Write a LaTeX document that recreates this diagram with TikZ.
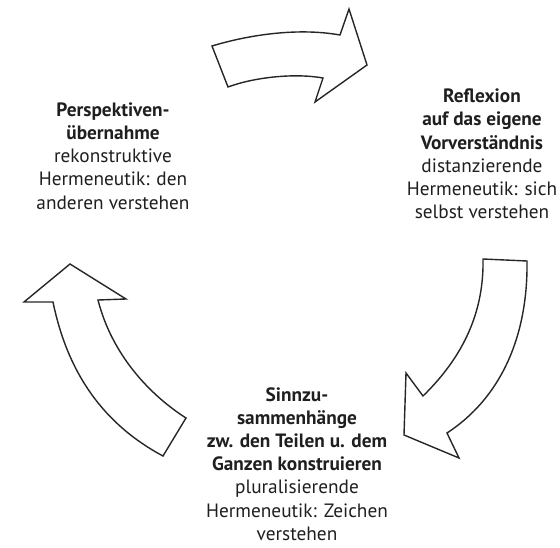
\documentclass[tikz,border=0pt]{standalone}
\usepackage{fontspec}
\setmainfont{PT Sans}
\begin{document}
\begin{tikzpicture}[x=1pt,y=-1pt,
  blockarrow/.style={draw=black!85, line width=1.4pt, line join=miter, fill=white},
  txt/.style={align=center, inner sep=0pt, text=black!88, font=\fontsize{19.3}{23.2}\selectfont}]
\useasboundingbox (0,0) rectangle (560,548);
% top arrow
\draw[blockarrow] (212,46) .. controls (245,36) and (295,27) .. (340,35) -- (349,9) -- (367,65) -- (315,102) -- (323,78)
  .. controls (295,73) and (255,77) .. (228,87) -- cycle;
% right arrow
\draw[blockarrow] (483,259) -- (527,261) .. controls (528,330) and (505,395) .. (447,433) -- (459,458) -- (404,435) -- (406,373) -- (423,396)
  .. controls (465,355) and (484,310) .. (483,259) -- cycle;
% left arrow
\draw[blockarrow] (70,264) -- (126,299) -- (98,300) .. controls (112,355) and (150,395) .. (186,418) -- (163,456)
  .. controls (105,425) and (68,375) .. (53,302) -- (24,302) -- cycle;
% texts
\node[txt] (left) at (113,156) {\textbf{Perspektiven-}\\\textbf{übernahme}\\rekonstruktive\\Hermeneutik: den\\anderen verstehen};
\node[txt] (right) at (482,154) {\textbf{Reflexion}\\\textbf{auf das eigene}\\\textbf{Vorverständnis}\\distanzierende\\Hermeneutik: sich\\selbst verstehen};
\node[txt] (bottom) at (297,464) {\textbf{Sinnzu-}\\\textbf{sammenhänge}\\\textbf{zw. den Teilen u. dem}\\\textbf{Ganzen konstruieren}\\pluralisierende\\Hermeneutik: Zeichen\\verstehen};
\end{tikzpicture}
\end{document}
